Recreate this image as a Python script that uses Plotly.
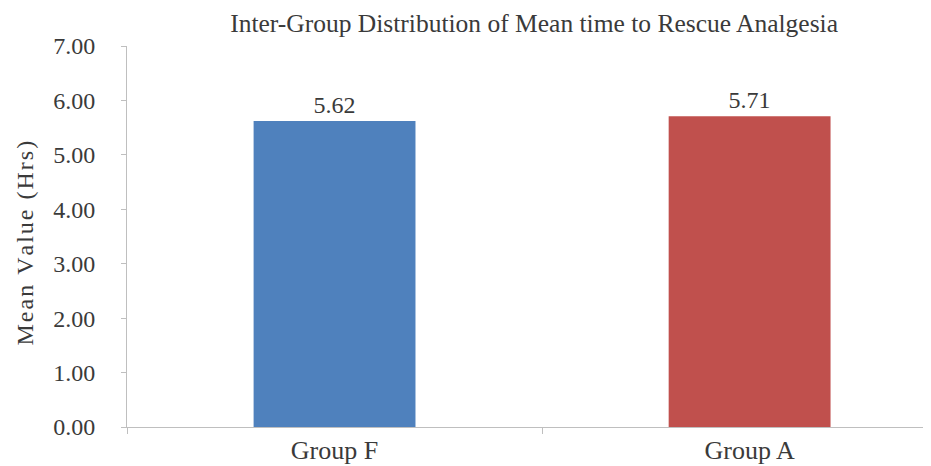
import plotly.graph_objects as go

# Data
groups = ['Group F', 'Group A']
mean_hours = [5.62, 5.71]
bar_colors = ['#4F81BD', '#C0504D']
y_ticks = [0, 1, 2, 3, 4, 5, 6, 7]

serif = 'Liberation Serif, Times New Roman, serif'
text_color = '#3a3a3a'
axis_color = '#BFBFBF'

# the page body keeps its 8px margin, so the figure is 8px smaller than the window
fig = go.Figure()
fig.add_trace(go.Bar(
    x=groups,
    y=mean_hours,
    marker=dict(color=bar_colors, line=dict(width=0)),
    width=0.39,
    text=[f'{v:.2f}' for v in mean_hours],
    textposition='outside',
    textfont=dict(family=serif, size=24, color=text_color),
    cliponaxis=False,
))

fig.update_layout(
    width=923, height=458,
    margin=dict(l=119, r=0, t=38, b=39),
    paper_bgcolor='white', plot_bgcolor='white',
    showlegend=False,
    title=dict(text='Inter-Group Distribution of Mean time to Rescue Analgesia',
               x=0.570, xanchor='center', y=0.966, yanchor='middle',
               font=dict(family=serif, size=25.5, color=text_color)),
)

# Updating the axes (Excel-like look)
fig.update_xaxes(
    range=[-0.5, 1.437],
    showline=True, linecolor=axis_color, linewidth=1,
    ticks='outside', tickson='boundaries', ticklen=6, tickcolor=axis_color,
    tickfont=dict(family=serif, size=26, color=text_color),
    showgrid=False,
)
fig.update_yaxes(
    range=[0, 7],
    tickvals=y_ticks,
    ticktext=[f'{v:.2f}' for v in y_ticks],
    showline=True, linecolor=axis_color, linewidth=1,
    ticks='outside', ticklen=5, tickcolor=axis_color,
    ticklabelstandoff=21,
    tickfont=dict(family=serif, size=24, color=text_color),
    showgrid=False, zeroline=False,
)

# letter-spaced y axis title, placed as an annotation
hs = '\u200a'
y_title = hs.join('Mean Value (Hrs)')
fig.add_annotation(
    text=y_title,
    xref='paper', yref='paper', x=-0.127, y=0.484,
    xanchor='center', yanchor='middle', textangle=-90, showarrow=False,
    font=dict(family=serif, size=24, color=text_color),
)

fig.write_html('out.html')
